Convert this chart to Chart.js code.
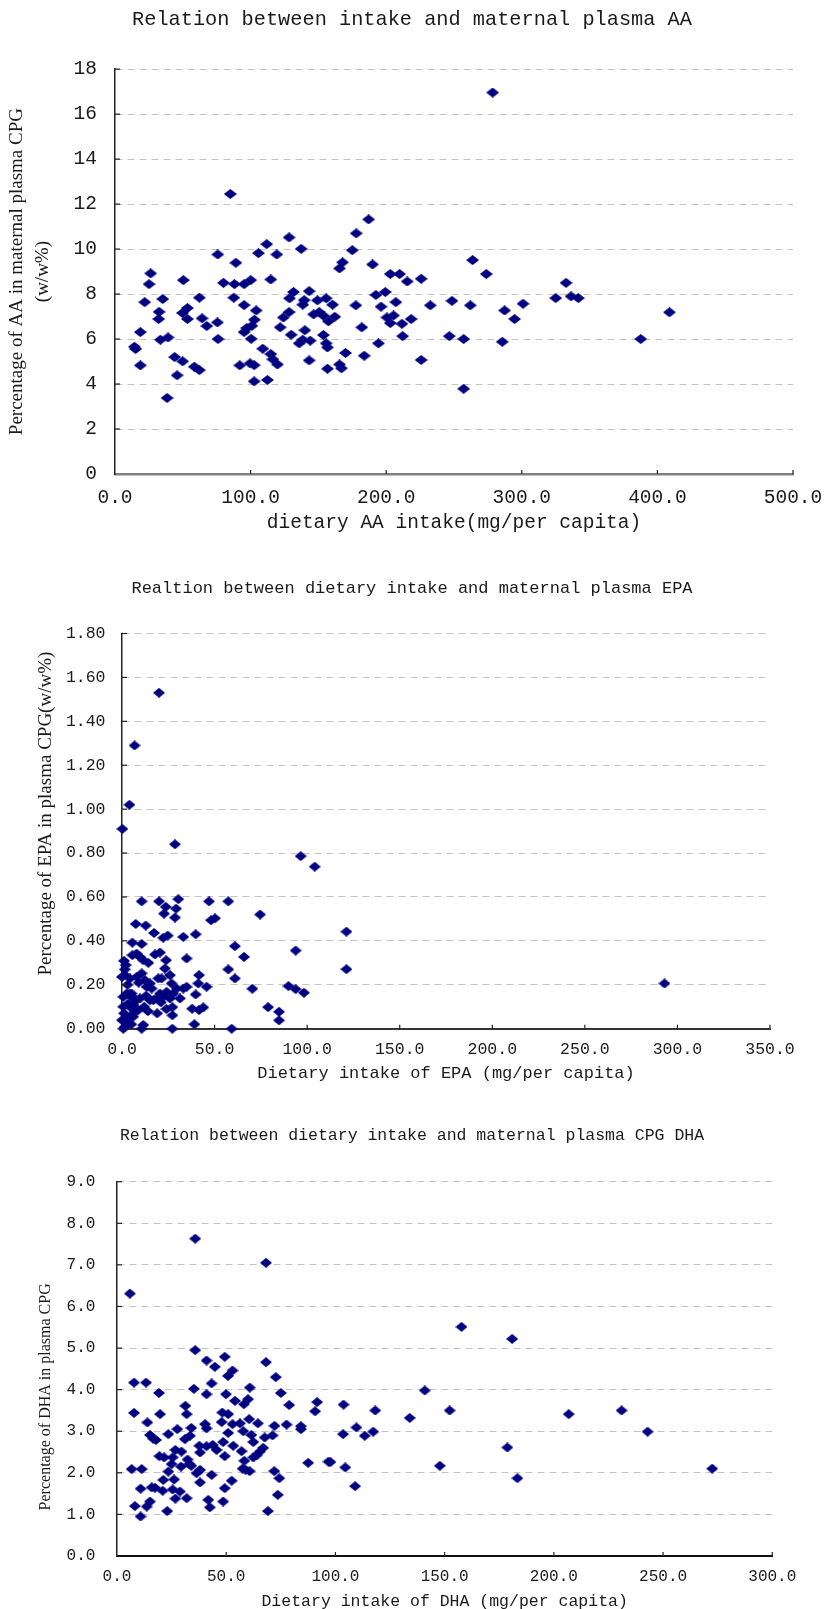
<!DOCTYPE html>
<html><head><meta charset="utf-8">
<script src="https://cdn.jsdelivr.net/npm/chart.js@4.4.1/dist/chart.umd.min.js"></script>
<style>
html,body{margin:0;padding:0;background:#fff;overflow:hidden;width:824px;height:1609px}
canvas{position:absolute;left:0;display:block}
</style></head>
<body>
<canvas id="c1" width="824" height="540" style="top:0px"></canvas>
<canvas id="c2" width="824" height="545" style="top:540px"></canvas>
<canvas id="c3" width="824" height="540" style="top:1085px"></canvas>
<script>
// ---------- DATA ----------
const aaIntake = [85.0,128.4,111.9,105.8,119.3,75.8,137.3,89.1,26.3,25.1,50.4,80.0,88.1,95.2,100.1,114.9,21.9,35.2,62.2,87.6,95.2,104.1,32.5,32.2,53.4,49.7,53.4,64.2,67.7,75.5,102.8,100.9,97.2,95.2,18.7,33.5,39.1,76.0,100.4,14.3,15.2,18.7,44.0,49.9,58.5,62.2,45.8,38.4,92.0,99.6,102.6,102.6,112.4,109.0,114.9,116.4,119.8,121.8,129.9,124.2,128.4,128.7,131.6,139.5,143.2,138.5,149.3,155.7,160.4,150.6,153.7,157.4,162.1,140.0,143.9,135.8,138.5,153.7,155.7,156.7,143.2,156.7,165.6,167.0,170.0,165.6,167.8,175.0,278.5,187.0,177.9,189.9,203.0,209.9,215.5,225.8,263.7,273.8,332.6,325.0,336.3,341.7,192.4,199.3,177.6,196.2,207.1,232.5,248.5,262.0,287.3,300.9,294.7,200.5,205.4,203.0,211.6,218.4,182.0,212.1,246.5,257.1,285.6,194.3,183.8,225.8,257.1,408.9,387.7,146.5];
const aaPlasma = [12.45,10.52,10.22,9.82,9.76,9.76,10.01,9.39,8.92,8.44,8.62,8.50,8.44,8.44,8.62,8.65,7.64,7.78,7.84,7.84,7.51,7.27,7.21,6.89,7.38,7.16,6.89,6.92,6.58,6.74,6.86,6.59,6.49,6.31,6.31,5.97,6.07,6.00,6.01,5.66,5.56,4.83,5.20,5.01,4.77,4.62,4.39,3.38,4.83,4.92,4.84,4.12,4.18,5.57,5.33,5.10,4.87,6.52,6.19,6.96,7.20,7.81,8.09,7.73,8.13,7.53,7.72,7.81,7.53,7.20,7.04,6.79,6.99,6.39,5.93,5.81,5.97,6.18,5.81,5.63,5.05,4.68,4.87,4.70,5.38,9.14,9.41,9.95,16.96,11.32,10.70,9.32,8.89,8.89,8.56,8.68,9.51,8.89,8.50,7.82,7.90,7.82,7.96,8.09,7.50,7.44,7.64,7.50,7.70,7.50,7.27,7.57,6.89,6.96,7.05,6.71,6.68,6.89,6.52,6.13,6.13,6.00,5.88,5.81,5.26,5.07,3.79,7.19,6.00,7.10];

const epaIntake = [20,6.8,4,0.2,28.6,96.5,104.1,10.6,20,30.4,47,57.4,74.6,23.6,29.2,22.7,28.6,48.1,50.2,7.4,12.8,17.3,22.3,24.7,33.1,39.8,121.2,5.6,10.6,61,93.8,65.9,1.1,5.6,7.9,9.7,11.5,14.2,17.8,20.5,23.8,23.2,34.9,57.4,121.2,61,41.6,41.2,45.7,70.4,89.9,93.8,98.3,293,78.9,84.8,84.8,59.2,39.1,27.2,27.2,27.2,39.8,37.9,41.6,43.9,10.6,11.5,0.7,1.6,2.5,0,1.1,4.3,6.1,7.9,9.7,8.8,4.3,6.1,0.7,2.5,4.3,0.7,3.4,7,5.2,0,1.6,4.3,7.9,10.6,12.4,15.1,13.3,16,16.9,15.1,18.7,20.5,22.3,24.1,25.9,27.7,29.5,31.3,33.1,34.9,25.9,26.8,21.4,19.6,1.5,3,2,5,6,9,12,14,19,21,24,13,2];
const epaPlasma = [1.53,1.29,1.02,0.91,0.84,0.786,0.738,0.58,0.58,0.59,0.58,0.58,0.52,0.555,0.547,0.524,0.506,0.494,0.503,0.477,0.47,0.436,0.414,0.424,0.418,0.43,0.442,0.392,0.386,0.376,0.356,0.327,0.309,0.335,0.342,0.327,0.312,0.3,0.338,0.347,0.312,0.274,0.32,0.27,0.271,0.229,0.244,0.206,0.191,0.182,0.194,0.18,0.164,0.206,0.098,0.077,0.038,0,0.02,0,0.061,0.098,0.156,0.091,0.085,0.097,0,0.017,0,0.009,0.024,0.039,0.07,0.1,0.108,0.13,0.138,0.085,0.055,0.055,0.145,0.16,0.16,0.1,0.115,0.077,0.16,0.236,0.244,0.229,0.236,0.252,0.221,0.206,0.191,0.183,0.13,0.13,0.138,0.16,0.145,0.168,0.138,0.16,0.183,0.138,0.183,0.191,0.244,0.206,0.229,0.229,0.27,0.2,0.05,0.02,0.14,0.21,0.1,0.08,0.07,0.12,0.09,0.15,0.29];

const dhaIntake = [5.9,35.8,68.2,35.8,49.3,41,44.8,68.2,52.9,50.8,72.7,7.8,13.3,19.2,43.3,35.2,41,49.9,60.8,54,58.1,60,75,78.8,91.6,90.7,7.8,19.7,31.3,31.9,13.9,48.2,50.9,47.9,60.5,64.5,52.9,56.3,57.8,72.1,77.6,84.2,84.2,40.3,41,34,27.6,23.5,15.1,16.6,17.8,33.4,31.1,50.9,61.5,62.4,67.6,71.2,48.6,43.8,45.6,41,37.7,38,53.2,57,66.9,65.4,63.9,62.4,26.7,29.5,19.4,21.6,25.5,32.3,33.1,25,29.3,34,49.3,58.3,57.5,23.5,6.7,11.3,38,36.4,43.3,38,21.2,26.1,58.9,60.7,72,74.3,52.5,49.3,10.8,15.9,17.4,20.9,25.5,28.8,26.7,31.9,73.6,8.2,13.6,15.1,23,41.8,42.5,48.6,10.8,69.1,87.5,96.8,103.7,118.2,109.6,103.5,113.4,117.3,134,140.9,152.3,157.7,180.9,97.7,104.5,109,147.8,178.7,183.3,206.8,231,242.9,272.5];
const dhaPlasma = [6.31,7.63,7.05,4.95,4.79,4.7,4.55,4.66,4.46,4.33,4.3,4.17,4.17,3.92,4.15,4.02,3.89,3.89,4.05,3.73,3.65,3.77,3.92,3.63,3.7,3.48,3.44,3.41,3.61,3.41,3.21,3.45,3.41,3.22,3.29,3.19,3.17,3.19,3.0,3.13,3.16,3.12,3.05,3.17,3.07,3.08,3.05,2.93,2.91,2.82,2.79,2.89,2.81,2.96,2.91,2.74,2.85,2.9,2.74,2.67,2.55,2.64,2.65,2.49,2.65,2.52,2.6,2.51,2.42,2.37,2.55,2.51,2.4,2.37,2.37,2.32,2.21,2.21,2.15,2.17,2.4,2.29,2.1,2.03,2.09,2.09,2.07,1.99,1.95,1.77,1.83,1.84,2.07,2.04,2.04,1.87,1.81,1.63,1.62,1.65,1.64,1.57,1.6,1.55,1.38,1.39,1.47,1.2,1.19,1.31,1.08,1.35,1.17,1.31,0.95,1.08,2.24,2.27,3.64,3.5,3.09,2.93,2.89,2.99,3.32,3.98,3.5,5.51,5.22,2.26,2.13,1.68,2.17,2.61,1.87,3.41,3.5,2.99,2.1];

const aaXTicks = {min:0, max:500, step:100};
const aaYTicks = {min:0, max:18, step:2};
const epaXTicks = {min:0, max:350, step:50};
const epaYTicks = {min:0, max:1.8, step:0.2};
const dhaXTicks = {min:0, max:300, step:50};
const dhaYTicks = {min:0, max:9, step:1};

// ---------- STYLE ----------
const NAVY = '#000080';
const MONO = "'Liberation Mono', 'DejaVu Sans Mono', monospace";
const SERIF = "'Liberation Serif', 'DejaVu Serif', serif";
const TXT = '#1a1a1a';
const GRID = '#c4c4c4';

function diamond(w, h){
  const c = document.createElement('canvas'); c.width = w; c.height = h;
  const g = c.getContext('2d'); g.fillStyle = NAVY;
  g.beginPath(); g.moveTo(w/2,0); g.lineTo(w,h/2); g.lineTo(w/2,h); g.lineTo(0,h/2); g.closePath(); g.fill();
  return c;
}

const innerTicks = {
  id: 'innerTicks',
  afterDatasetsDraw(chart, args, o){
    const {ctx, chartArea:a, scales:{x, y}} = chart;
    ctx.save(); ctx.strokeStyle = o.color || '#222'; ctx.lineWidth = 1.2;
    y.ticks.forEach(t => { if (t.value === y.min) return; const p = y.getPixelForValue(t.value);
      ctx.beginPath(); ctx.moveTo(a.left, p); ctx.lineTo(a.left + o.ylen, p); ctx.stroke(); });
    x.ticks.forEach(t => { if (t.value === x.min) return; const p = x.getPixelForValue(t.value);
      ctx.beginPath(); ctx.moveTo(p, a.bottom); ctx.lineTo(p, a.bottom - o.xlen); ctx.stroke(); });
    ctx.restore();
  }
};

// side (y axis) title drawn as rotated text, shifted along the axis like the original
const sideTitle = {
  id: 'sideTitle',
  afterDraw(chart, args, o){
    if (!o || !o.text) return;
    const {ctx, chartArea:a} = chart;
    ctx.save();
    ctx.font = o.size + 'px ' + SERIF; ctx.fillStyle = TXT;
    ctx.textAlign = 'center'; ctx.textBaseline = 'middle';
    ctx.translate(o.x, (a.top + a.bottom)/2 + o.dy); ctx.rotate(-Math.PI/2);
    ctx.fillText(o.text, 0, 0);
    ctx.restore();
  }
};

function makeChart(id, cfg){
  const pts = cfg.xs.map((x,i)=>({x, y: cfg.ys[i]}));
  const useScaleTitle = !cfg.side;
  return new Chart(document.getElementById(id), {
    type: 'scatter',
    data: { datasets: [{ data: pts, pointStyle: diamond(cfg.mw, cfg.mh), pointRadius: 6,
      backgroundColor: NAVY, borderWidth: 0, clip: false }] },
    plugins: [innerTicks, sideTitle],
    options: {
      responsive: false, animation: false, devicePixelRatio: 1,
      layout: { padding: 0 },
      plugins: {
        legend: { display: false }, tooltip: { enabled: false },
        title: { display: true, text: cfg.title, color: TXT,
          font: { family: MONO, size: cfg.titleSize, weight: 'normal', lineHeight: 1.2 },
          padding: { top: cfg.titleTop, bottom: cfg.titleBottom } },
        innerTicks: { ylen: 5, xlen: 4, color: '#222' },
        sideTitle: cfg.side || {}
      },
      scales: {
        x: { type: 'linear', min: cfg.xt.min, max: cfg.xt.max,
          ticks: { stepSize: cfg.xt.step, autoSkip: false, maxRotation: 0, color: TXT,
            padding: cfg.xTickPad, font: { family: MONO, size: cfg.tickSize, lineHeight: 1.2 },
            callback: v => Number(v).toFixed(1) },
          grid: { display: false, drawTicks: false },
          border: { display: true, color: cfg.xBorder, width: cfg.xBorderW },
          title: { display: true, text: cfg.xTitle, color: TXT,
            font: { family: MONO, size: cfg.xTitleSize, lineHeight: 1.2 },
            padding: { top: 0, bottom: cfg.xTitleBottom } },
          afterFit(s){ s.height = cfg.xAxisH; s.paddingLeft = 0; s.paddingRight = 0; }
        },
        y: { type: 'linear', min: cfg.yt.min, max: cfg.yt.max,
          ticks: { stepSize: cfg.yt.step, autoSkip: false, color: TXT, padding: cfg.yTickPad,
            font: { family: MONO, size: cfg.yTickSize, lineHeight: 1.2 },
            callback: v => Number(v).toFixed(cfg.yDec) },
          grid: { display: true, drawTicks: false, color: GRID, lineWidth: 1 },
          border: { display: true, color: '#222', width: 1.5, dash: [7,5] },
          title: { display: useScaleTitle, text: cfg.yTitle || '', color: TXT,
            font: { family: SERIF, size: cfg.yTitleSize || 16, lineHeight: cfg.yTitleLH || 1.2 },
            padding: { top: cfg.yTitleTop || 0, bottom: 0 } },
          afterFit(s){ s.width = cfg.yAxisW; s.paddingTop = 0; s.paddingBottom = 0; }
        },
        yR: { type: 'linear', position: 'right', display: true, min: 0, max: 1,
          ticks: { display: false }, grid: { display: false, drawTicks: false },
          border: { display: false }, title: { display: false },
          afterFit(s){ s.width = cfg.padRight; s.paddingTop = 0; s.paddingBottom = 0; }
        }
      }
    }
  });
}

makeChart('c1', {
  xs: aaIntake, ys: aaPlasma, mw: 13, mh: 10,
  title: 'Relation between intake and maternal plasma AA', titleSize: 20.3, titleTop: 7.5, titleBottom: 37.3,
  padRight: 31, xt: aaXTicks, yt: aaYTicks, yDec: 0,
  tickSize: 19.5, yTickSize: 19.5, xTickPad: 12, yTickPad: 18,
  xBorder: '#808080', xBorderW: 2.5,
  xTitle: 'dietary AA intake(mg/per capita)', xTitleSize: 19.5, xTitleBottom: 5.5, xAxisH: 66,
  yTitle: ['Percentage of AA in maternal plasma CPG', '(w/w%)'], yTitleSize: 19, yTitleLH: 1.347, yTitleTop: 4.6,
  yAxisW: 115
});

makeChart('c2', {
  xs: epaIntake, ys: epaPlasma, mw: 12, mh: 10,
  title: 'Realtion between dietary intake and maternal plasma EPA', titleSize: 17, titleTop: 37.8, titleBottom: 35.3,
  padRight: 54, xt: epaXTicks, yt: epaYTicks, yDec: 2,
  tickSize: 16.5, yTickSize: 16.5, xTickPad: 11.4, yTickPad: 16.5,
  xBorder: '#333', xBorderW: 2,
  xTitle: 'Dietary intake of EPA (mg/per capita)', xTitleSize: 17, xTitleBottom: 1, xAxisH: 56.3,
  side: { text: 'Percentage of EPA in plasma CPG(w/w%)', size: 19, x: 46, dy: -17.5 },
  yAxisW: 122
});

makeChart('c3', {
  xs: dhaIntake, ys: dhaPlasma, mw: 12, mh: 10,
  title: 'Relation between dietary intake and maternal plasma CPG DHA', titleSize: 16.5, titleTop: 41.1, titleBottom: 35.8,
  padRight: 51.7, xt: dhaXTicks, yt: dhaYTicks, yDec: 1,
  tickSize: 16, yTickSize: 16, xTickPad: 11.4, yTickPad: 21.6,
  xBorder: '#111', xBorderW: 2,
  xTitle: 'Dietary intake of DHA (mg/per capita)', xTitleSize: 16.5, xTitleBottom: 13.7, xAxisH: 69,
  side: { text: 'Percentage of DHA in plasma CPG', size: 16, x: 46, dy: 28 },
  yAxisW: 117
});
</script>
</body></html>
